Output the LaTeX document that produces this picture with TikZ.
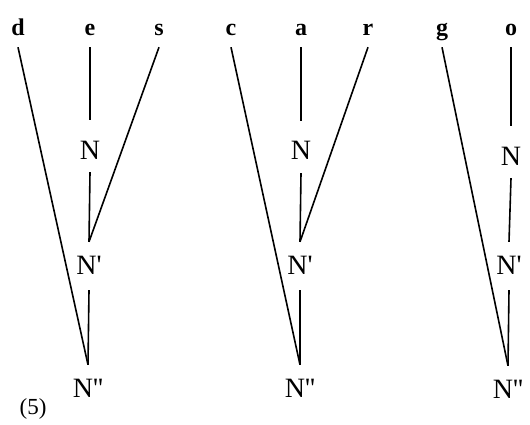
\documentclass[tikz,border=0pt]{standalone}
\usepackage{fontspec}
\setmainfont{Liberation Serif}[Ligatures=TeXOff]
\begin{document}
\begin{tikzpicture}[x=1pt,y=-1pt,
  lt/.style={font=\bfseries\fontsize{24}{26}\selectfont, anchor=base, inner sep=0pt, text depth=11pt},
  nn/.style={font=\fontsize{28}{30}\selectfont, anchor=base, inner sep=0pt, text height=39pt, text depth=13pt},
  nb/.style={font=\fontsize{28}{30}\selectfont, anchor=base, inner sep=0pt, text height=32pt, text depth=16pt},
  br/.style={line width=1.6pt, black}]
\useasboundingbox (0,0) rectangle (530,425);
% tree 1
\node[lt] (d) at (18,36) {d};
\node[lt] (e) at (90,36) {e};
\node[lt] (s) at (159,36) {s};
\node[nn] (n1) at (90,159) {N};
\node[nb] (p1) at (89,274) {N'};
\node[nb] (q1) at (88,397) {N''};
\draw[br] (e.south) -- (n1.north);
\draw[br] (n1.south) -- (p1.north);
\draw[br] (s.south) -- (p1.north);
\draw[br] (p1.south) -- (q1.north);
\draw[br] (d.south) -- (q1.north);
% tree 2
\node[lt] (c) at (231,36) {c};
\node[lt] (a) at (301,36) {a};
\node[lt] (r) at (368,36) {r};
\node[nn] (n2) at (301,160) {N};
\node[nb] (p2) at (300,274) {N'};
\node[nb] (q2) at (300,397) {N''};
\draw[br] (a.south) -- (n2.north);
\draw[br] (n2.south) -- (p2.north);
\draw[br] (r.south) -- (p2.north);
\draw[br] (p2.south) -- (q2.north);
\draw[br] (c.south) -- (q2.north);
% tree 3
\node[lt] (g) at (442,36) {g};
\node[lt] (o) at (511,36) {o};
\node[nn] (n3) at (511,165) {N};
\node[nb] (p3) at (509,274) {N'};
\node[nb] (q3) at (508,398) {N''};
\draw[br] (o.south) -- (n3.north);
\draw[br] (n3.south) -- (p3.north);
\draw[br] (p3.south) -- (q3.north);
\draw[br] (g.south) -- (q3.north);
% label
\node[font=\fontsize{23}{25}\selectfont, anchor=base, inner sep=0pt] (lab) at (33,414) {(5)};
\end{tikzpicture}
\end{document}
